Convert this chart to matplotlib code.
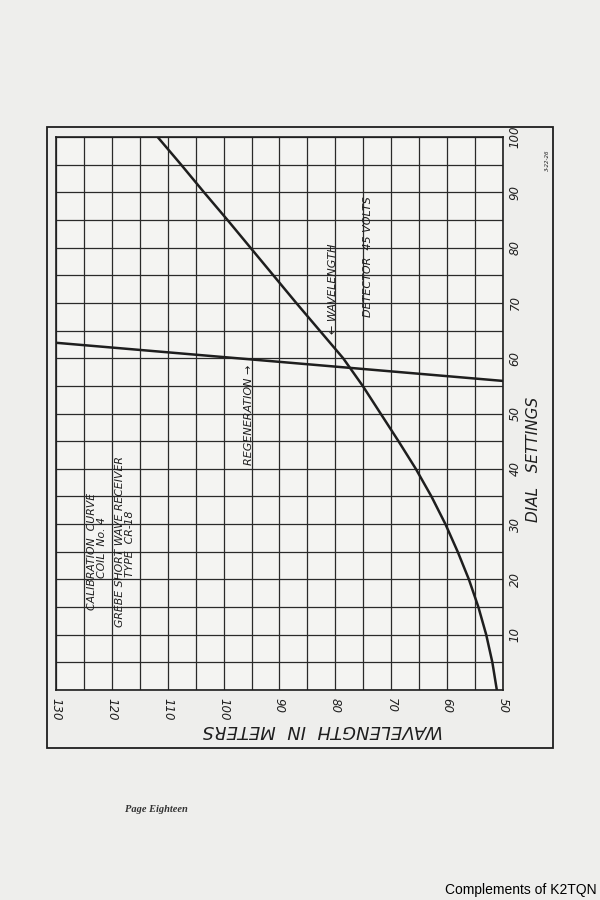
import numpy as np
import matplotlib
matplotlib.use('Agg')
import matplotlib.pyplot as plt
from matplotlib.patches import Rectangle

# wavelength curve (dial setting -> meters)
dial = [0, 5, 10, 15, 20, 25, 30, 35, 40, 45, 50, 55, 60, 65, 70, 75, 80, 85, 90, 95, 100]
wavelength = [51.1, 51.9, 53.0, 54.4, 56.1, 58.1, 60.3, 62.8, 65.6, 68.7, 71.9, 75.1,
              78.6, 82.8, 87.0, 91.1, 95.2, 99.3, 103.5, 107.6, 111.8]

# regeneration line: dial setting at each end of the wavelength scale
regen_wl = [130, 50]
regen_dial = [62.8, 55.9]

wl_ticks = [130, 120, 110, 100, 90, 80, 70, 60, 50]
dial_ticks = [10, 20, 30, 40, 50, 60, 70, 80, 90, 100]

paper = '#eeeeec'
ink = '#1e1e1e'
hand = dict(family='DejaVu Sans', style='italic', color=ink)

fig = plt.figure(figsize=(6, 9), dpi=100, facecolor=paper)
ax = fig.add_axes([0.0933, 0.2333, 0.745, 0.6144])
ax.set_facecolor('#f4f4f2')

# outer frame of the drawing
fig.patches.append(Rectangle((0.0783, 0.1689), 0.8434, 0.69, transform=fig.transFigure,
                             fill=False, lw=1.3, ec=ink))

ax.plot(wavelength, dial, color=ink, lw=1.8, zorder=3)
ax.plot(regen_wl, regen_dial, color=ink, lw=1.8, zorder=3)

ax.set_xlim(130, 50)
ax.set_ylim(0, 100)
ax.set_xticks(wl_ticks)
ax.set_xticks(np.arange(50, 131, 5), minor=True)
ax.set_yticks(dial_ticks)
ax.set_yticks(np.arange(0, 101, 5), minor=True)
ax.grid(True, which='both', color='#2a2a2a', lw=0.9)
ax.set_axisbelow(True)
ax.yaxis.tick_right()
ax.tick_params(which='both', length=0)
ax.tick_params(axis='x', pad=6)
ax.tick_params(axis='y', pad=4)
for lab in ax.get_xticklabels():
    lab.set_rotation(-90)
    lab.set_fontsize(8.5)
    lab.set_fontstyle('italic')
    lab.set_color(ink)
for lab in ax.get_yticklabels():
    lab.set_rotation(90)
    lab.set_va('center')
    lab.set_fontsize(8.5)
    lab.set_fontstyle('italic')
    lab.set_color(ink)
for s in ax.spines.values():
    s.set_linewidth(1.2)
    s.set_color(ink)

# notes on the chart
ax.text(123.6, 25.1, 'CALIBRATION  CURVE', rotation=90, ha='center', va='center', fontsize=7.8, **hand)
ax.text(121.8, 25.8, 'COIL  No. 4', rotation=90, ha='center', va='center', fontsize=7.8, **hand)
ax.text(118.6, 26.8, 'GREBE SHORT WAVE RECEIVER', rotation=90, ha='center', va='center', fontsize=7.8, **hand)
ax.text(116.7, 26.5, 'TYPE  CR-18', rotation=90, ha='center', va='center', fontsize=7.8, **hand)
ax.text(95.5, 49.7, 'REGENERATION \u2192', rotation=90, ha='center', va='center', fontsize=8, **hand)
ax.text(80.4, 72.5, '\u2190 WAVELENGTH', rotation=90, ha='center', va='center', fontsize=8, **hand)
ax.text(74.2, 78.3, 'DETECTOR  45 VOLTS', rotation=90, ha='center', va='center', fontsize=8, **hand)

fig.text(0.89, 0.489, 'DIAL   SETTINGS', rotation=90, ha='center', va='center', fontsize=11, **hand)
fig.text(0.538, 0.189, 'WAVELENGTH  IN  METERS', rotation=180, ha='center', va='center',
         fontsize=13, **hand)
fig.text(0.913, 0.822, '3-22-26', rotation=90, ha='center', va='center', fontsize=4, **hand)

fig.text(0.208, 0.101, 'Page Eighteen', family='Liberation Serif', style='italic', weight='bold',
         fontsize=7.5, color='#333333', ha='left', va='center')
fig.text(0.995, 0.011, 'Complements of K2TQN', family='Liberation Sans', fontsize=10,
         color='black', ha='right', va='center')

fig.savefig('out.png', dpi=100, facecolor=paper)
